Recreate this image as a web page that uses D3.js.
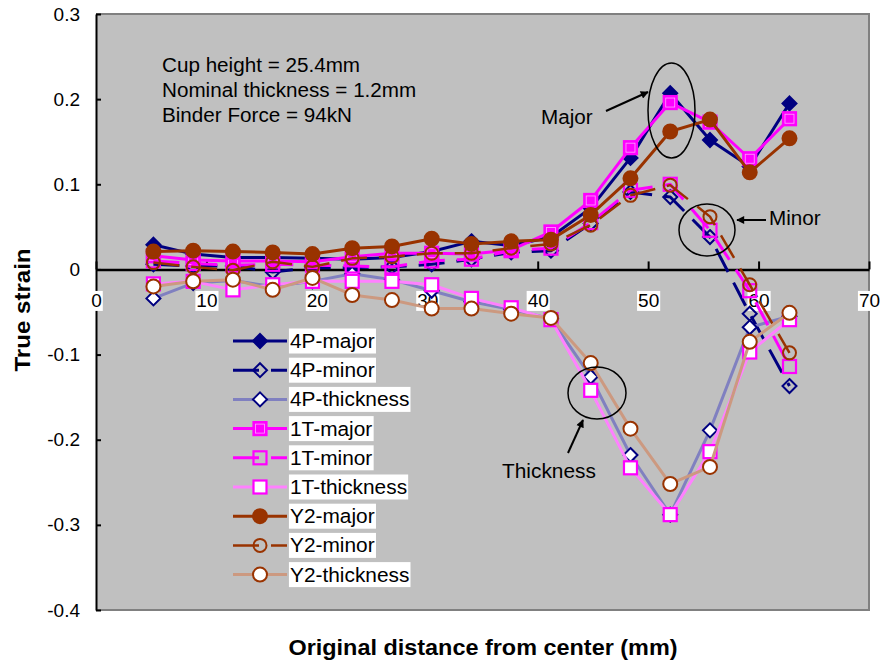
<!DOCTYPE html>
<html><head><meta charset="utf-8">
<script src="https://cdn.jsdelivr.net/npm/d3@7"></script>
<style>
body{margin:0;background:#fff}
svg{display:block}
text{font-family:"Liberation Sans",Arial,Helvetica,sans-serif}
</style>
</head><body>
<svg id="chart" width="881" height="661"></svg>
<script>
// ---------- data ----------
const distances = [5.2, 8.8, 12.4, 16.0, 19.6, 23.2, 26.8, 30.4, 34.0, 37.6, 41.2, 44.8, 48.4, 52.0, 55.6, 59.2, 62.8];

const p4Major     = [0.029, 0.018, 0.014, 0.014, 0.013, 0.012, 0.014, 0.021, 0.033, 0.028, 0.038, 0.072, 0.131, 0.207, 0.152, 0.121, 0.195];
const p4Minor     = [0.006, 0.004, 0.004, -0.003, 0.002, 0.002, 0.003, 0.006, 0.012, 0.020, 0.022, 0.054, 0.091, 0.085, 0.038, -0.052, -0.137];
const p4Thickness = [-0.034, -0.016, -0.013, -0.020, -0.014, -0.005, -0.012, -0.025, -0.038, -0.047, -0.058, -0.126, -0.218, -0.288, -0.189, -0.068, -0.055];

const t1Major     = [0.016, 0.011, 0.010, 0.010, 0.009, 0.015, 0.019, 0.019, 0.018, 0.023, 0.044, 0.081, 0.143, 0.196, 0.173, 0.130, 0.177];
const t1Minor     = [0.010, 0.007, 0.005, 0.006, 0.005, 0.004, 0.003, 0.010, 0.012, 0.022, 0.025, 0.055, 0.093, 0.100, 0.046, -0.025, -0.114];
const t1Thickness = [-0.017, -0.014, -0.024, -0.018, -0.014, -0.014, -0.014, -0.018, -0.034, -0.045, -0.059, -0.142, -0.233, -0.288, -0.214, -0.097, -0.059];

const y2Major     = [0.021, 0.022, 0.021, 0.020, 0.018, 0.025, 0.027, 0.036, 0.030, 0.033, 0.035, 0.064, 0.107, 0.162, 0.176, 0.114, 0.154];
const y2Minor     = [0.008, 0.003, -0.001, 0.009, 0.003, 0.013, 0.015, 0.019, 0.019, 0.025, 0.030, 0.052, 0.087, 0.099, 0.062, -0.018, -0.098];
const y2Thickness = [-0.020, -0.014, -0.012, -0.024, -0.010, -0.030, -0.036, -0.046, -0.046, -0.052, -0.057, -0.110, -0.187, -0.252, -0.232, -0.085, -0.051];

const seriesNames = ["4P-major", "4P-minor", "4P-thickness", "1T-major", "1T-minor", "1T-thickness", "Y2-major", "Y2-minor", "Y2-thickness"];
const seriesValues = [p4Major, p4Minor, p4Thickness, t1Major, t1Minor, t1Thickness, y2Major, y2Minor, y2Thickness];

const xTicks = [0, 10, 20, 30, 40, 50, 60, 70];
const yTicks = [0.3, 0.2, 0.1, 0, -0.1, -0.2, -0.3, -0.4];
const notes = ["Cup height = 25.4mm", "Nominal thickness = 1.2mm", "Binder Force = 94kN"];
const xTitle = "Original distance from center (mm)";
const yTitle = "True strain";

// ---------- styles ----------
const styles = [
  {line:"#000080", w:3, dash:null,    shape:"diamond", stroke:"#000080", fill:"#000080"},
  {line:"#000080", w:3, dash:"26,12", shape:"diamond", stroke:"#000080", fill:"none"},
  {line:"#8080c0", w:3, dash:null,    shape:"diamond", stroke:"#000080", fill:"#ffffff"},
  {line:"#ff00ff", w:3, dash:null,    shape:"square",  stroke:"#ff00ff", fill:"#ff00ff", inner:true},
  {line:"#ff00ff", w:3, dash:"26,12", shape:"square",  stroke:"#ff00ff", fill:"none"},
  {line:"#ff80ff", w:3, dash:null,    shape:"square",  stroke:"#ff00ff", fill:"#ffffff"},
  {line:"#993300", w:3, dash:null,    shape:"circle",  stroke:"#993300", fill:"#993300"},
  {line:"#993300", w:2.5, dash:"26,12", shape:"circle", stroke:"#993300", fill:"none"},
  {line:"#cc9980", w:3, dash:null,    shape:"circle",  stroke:"#993300", fill:"#ffffff"}
];

const svg = d3.select("#chart");
const L = 96, R = 869, T = 14, B = 610;
const x = d3.scaleLinear().domain([0, 70]).range([L, R]);
const y = d3.scaleLinear().domain([-0.4, 0.3]).range([B, T]);

// helper: horizontally stretched text
function addText(parent, tx, ty, str, size, sx, opts = {}) {
  const g = parent.append("g").attr("transform", `translate(${tx},${ty}) ${opts.rotate ? "rotate(" + opts.rotate + ")" : ""} scale(${sx},1)`);
  const t = g.append("text").attr("x", 0).attr("y", 0).attr("dy", "0.36em")
    .attr("font-size", size).attr("fill", "#000").text(str);
  if (opts.anchor) t.attr("text-anchor", opts.anchor);
  if (opts.weight) t.attr("font-weight", opts.weight);
  return {g, t};
}

// plot area
svg.append("rect").attr("x", L).attr("y", T).attr("width", R - L).attr("height", B - T).attr("fill", "#c0c0c0");
svg.append("path").attr("d", `M${L},${T}H${R}V${B}H${L}`).attr("fill", "none").attr("stroke", "#808080").attr("stroke-width", 2);

// y axis
const yAxis = d3.axisLeft(y).tickValues(yTicks).tickSize(-5).tickSizeOuter(0).tickPadding(16)
  .tickFormat(d => String(+d.toFixed(1)));
const gy = svg.append("g").attr("transform", `translate(${L},0)`).call(yAxis);
gy.select(".domain").attr("stroke", "#000").attr("stroke-width", 2);
gy.selectAll(".tick line").attr("stroke", "#000").attr("stroke-width", 2);
gy.selectAll(".tick text").attr("font-size", 19).attr("fill", "#000").attr("font-family", "Liberation Sans, Arial, sans-serif");

// x axis at y = 0
const xAxis = d3.axisBottom(x).tickValues(xTicks).tickSize(-8).tickSizeOuter(0).tickPadding(24);
const gx = svg.append("g").attr("transform", `translate(0,${y(0)})`).call(xAxis);
gx.select(".domain").attr("stroke", "#000").attr("stroke-width", 2.5);
gx.selectAll(".tick line").attr("stroke", "#000").attr("stroke-width", 2);
gx.selectAll(".tick text").attr("font-size", 19).attr("fill", "#000").attr("font-family", "Liberation Sans, Arial, sans-serif");
gx.selectAll(".tick").each(function() {
  const g = d3.select(this);
  const t = g.select("text");
  const bb = t.node().getBBox();
  g.insert("rect", "text").attr("x", bb.x - 1).attr("y", bb.y + 1).attr("width", bb.width + 2).attr("height", bb.height - 1).attr("fill", "#fff");
});

// markers
function drawMarker(g, st, cx, cy) {
  if (st.shape === "diamond") {
    const h = 7;
    g.append("path").attr("d", `M${cx},${cy - h}L${cx + h},${cy}L${cx},${cy + h}L${cx - h},${cy}Z`)
      .attr("fill", st.fill).attr("stroke", st.stroke).attr("stroke-width", 2).attr("stroke-linejoin", "miter");
  } else if (st.shape === "square") {
    const h = 6.5;
    g.append("rect").attr("x", cx - h).attr("y", cy - h).attr("width", 2 * h).attr("height", 2 * h)
      .attr("fill", st.fill).attr("stroke", st.stroke).attr("stroke-width", 2.2);
    if (st.inner) {
      g.append("rect").attr("x", cx - h + 2).attr("y", cy - h + 2).attr("width", 2 * h - 4).attr("height", 2 * h - 4)
        .attr("fill", "none").attr("stroke", "#ffa6ff").attr("stroke-width", 0.8);
    }
  } else {
    g.append("circle").attr("cx", cx).attr("cy", cy).attr("r", st.fill === "none" ? 6.5 : 7)
      .attr("fill", st.fill).attr("stroke", st.stroke).attr("stroke-width", 2);
  }
}

const line = d3.line().x(d => x(d[0])).y(d => y(d[1]));
const gs = svg.append("g");
seriesValues.forEach((vals, i) => {
  const st = styles[i];
  const pts = distances.map((d, j) => [d, vals[j]]);
  const g = gs.append("g");
  g.append("path").datum(pts).attr("d", line).attr("fill", "none")
    .attr("stroke", st.line).attr("stroke-width", st.w)
    .attr("stroke-dasharray", st.dash).attr("stroke-linejoin", "round");
  pts.forEach(p => drawMarker(g, st, x(p[0]), y(p[1])));
});

// notes
notes.forEach((t, i) => addText(svg, 162, 65 + i * 25, t, 19.5, 1.06));

// annotations
const defs = svg.append("defs");
defs.append("marker").attr("id", "ah").attr("viewBox", "0 0 10 10").attr("refX", 9).attr("refY", 5)
  .attr("markerWidth", 10).attr("markerHeight", 8).attr("markerUnits", "userSpaceOnUse").attr("orient", "auto")
  .append("path").attr("d", "M0,0L10,5L0,10Z").attr("fill", "#000");

const ann = svg.append("g");
ann.append("ellipse").attr("cx", 671.5).attr("cy", 110.5).attr("rx", 23.5).attr("ry", 47.5)
  .attr("fill", "none").attr("stroke", "#000").attr("stroke-width", 1.5);
ann.append("line").attr("x1", 606).attr("y1", 111).attr("x2", 648).attr("y2", 92)
  .attr("stroke", "#000").attr("stroke-width", 2).attr("marker-end", "url(#ah)");
addText(ann, 541, 117, "Major", 19.5, 1.06);

ann.append("ellipse").attr("cx", 707).attr("cy", 230).attr("rx", 28).attr("ry", 26)
  .attr("fill", "none").attr("stroke", "#000").attr("stroke-width", 1.5);
ann.append("line").attr("x1", 766).attr("y1", 220).attr("x2", 737).attr("y2", 220)
  .attr("stroke", "#000").attr("stroke-width", 2).attr("marker-end", "url(#ah)");
addText(ann, 769, 218, "Minor", 19.5, 1.06);

ann.append("ellipse").attr("cx", 597).attr("cy", 393).attr("rx", 29).attr("ry", 26)
  .attr("fill", "none").attr("stroke", "#000").attr("stroke-width", 1.5);
ann.append("line").attr("x1", 568).attr("y1", 453).attr("x2", 583).attr("y2", 420)
  .attr("stroke", "#000").attr("stroke-width", 2).attr("marker-end", "url(#ah)");
addText(ann, 502, 471, "Thickness", 19.5, 1.07);

// legend
const lg = svg.append("g");
seriesNames.forEach((name, i) => {
  const st = styles[i];
  const cy = 341 + i * 29.2;
  const g = lg.append("g");
  g.append("line").attr("x1", 233).attr("x2", 287).attr("y1", cy).attr("y2", cy)
    .attr("stroke", st.line).attr("stroke-width", st.w).attr("stroke-dasharray", st.dash);
  drawMarker(g, st, 260, cy);
  const sx = 1.07;
  const {g: tg, t} = addText(g, 290, cy, name, 19.5, sx);
  const bb = t.node().getBBox();
  tg.insert("rect", "text").attr("x", bb.x - 1).attr("y", -12.5).attr("width", bb.width + 2).attr("height", 25).attr("fill", "#fff");
});

// axis titles
addText(svg, 483, 647, xTitle, 21.5, 1.09, {anchor: "middle", weight: "bold"});
addText(svg, 22, 310, yTitle, 21.5, 1.12, {anchor: "middle", weight: "bold", rotate: -90});
</script>
</body></html>
